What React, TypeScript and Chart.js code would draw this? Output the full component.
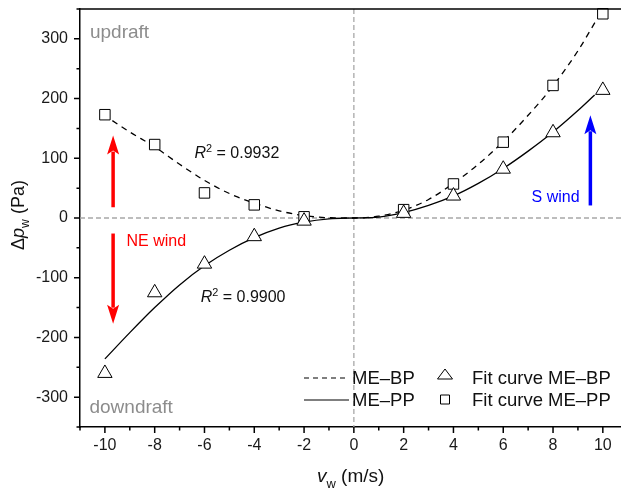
import { useEffect, useRef } from 'react';
import { Chart, registerables } from 'chart.js';

Chart.register(...registerables);

const FONT = '"Liberation Sans", Arial, Helvetica, sans-serif';

// Measured wind speeds and pressure differences (markers)
const windSpeeds = [-10, -8, -6, -4, -2, 2, 4, 6, 8, 10];
const triangleValues = [-260, -125, -77, -31, -5, 8, 37, 82, 143, 214];
const squareValues = [173, 123, 42, 22, 2, 14, 57, 127, 222, 342];

// Fitted curves, sampled along the wind-speed axis
const fitBpX = [-9.7, -9, -8, -7, -6, -5, -4, -3, -2, -1, 0, 1, 2, 3, 4, 5, 6, 7, 8, 9, 9.75];
const fitBpY = [163, 144, 119, 90, 63, 41, 25, 12, 4, 0.5, 0, 3, 13, 31, 58, 90, 128, 172, 221, 280, 332];
const fitPpX = [-10, -9, -8, -7, -6, -5, -4, -3, -2, -1, 0, 1, 2, 3, 4, 5, 6, 7, 8, 9, 9.67];
const fitPpY = [-236, -192, -150, -112, -80, -54, -33, -17, -7, -1.5, 0, 1.5, 9, 21, 37, 58, 83, 112, 144, 180, 206];

const xTicks = [-10, -8, -6, -4, -2, 0, 2, 4, 6, 8, 10];
const yTicks = [-300, -200, -100, 0, 100, 200, 300];

const seriesNames = ['ME\u2013BP', 'ME\u2013PP', 'Fit curve ME\u2013BP', 'Fit curve ME\u2013PP'];
const r2Values = ['0.9932', '0.9900'];

type Seg = { t: string; italic?: boolean; shift?: 'sub' | 'sup' };

function segFont(s: Seg, size: number) {
  const sz = s.shift ? size * 0.68 : size;
  return `${s.italic ? 'italic ' : ''}${sz}px ${FONT}`;
}

function richWidth(ctx: CanvasRenderingContext2D, segs: Seg[], size: number) {
  let w = 0;
  for (const s of segs) {
    ctx.font = segFont(s, size);
    w += ctx.measureText(s.t).width;
  }
  return w;
}

function drawRich(
  ctx: CanvasRenderingContext2D,
  segs: Seg[],
  x: number,
  y: number,
  size: number,
  color: string,
  align: 'left' | 'center' = 'left'
) {
  let cx = align === 'center' ? x - richWidth(ctx, segs, size) / 2 : x;
  ctx.fillStyle = color;
  ctx.textAlign = 'left';
  ctx.textBaseline = 'alphabetic';
  for (const s of segs) {
    ctx.font = segFont(s, size);
    const dy = s.shift === 'sub' ? size * 0.3 : s.shift === 'sup' ? -size * 0.38 : 0;
    ctx.fillText(s.t, cx, y + dy);
    cx += ctx.measureText(s.t).width;
  }
}

function drawArrow(ctx: CanvasRenderingContext2D, x: number, yTail: number, yTip: number, color: string) {
  const dir = Math.sign(yTip - yTail);
  const headLen = 19;
  const headHalf = 6;
  ctx.save();
  ctx.strokeStyle = color;
  ctx.fillStyle = color;
  ctx.lineWidth = 3.5;
  ctx.beginPath();
  ctx.moveTo(x, yTail);
  ctx.lineTo(x, yTip - dir * (headLen - 3));
  ctx.stroke();
  ctx.beginPath();
  ctx.moveTo(x, yTip);
  ctx.lineTo(x - headHalf, yTip - dir * headLen);
  ctx.lineTo(x, yTip - dir * (headLen - 4));
  ctx.lineTo(x + headHalf, yTip - dir * headLen);
  ctx.closePath();
  ctx.fill();
  ctx.restore();
}

// Gray dashed zero lines behind the data
const zeroLines = {
  id: 'zeroLines',
  beforeDatasetsDraw(chart: Chart) {
    const { ctx, chartArea: a, scales } = chart;
    const x0 = scales.x.getPixelForValue(0);
    const y0 = scales.y.getPixelForValue(0);
    ctx.save();
    ctx.strokeStyle = '#a8a8a8';
    ctx.lineWidth = 1.3;
    ctx.setLineDash([5, 3]);
    ctx.beginPath();
    ctx.moveTo(a.left, y0);
    ctx.lineTo(a.right, y0);
    ctx.moveTo(x0, a.top);
    ctx.lineTo(x0, a.bottom);
    ctx.stroke();
    ctx.restore();
  },
};

// Frame, tick marks, annotations, legend and axis titles
const decorations = {
  id: 'decorations',
  afterDraw(chart: Chart) {
    const { ctx, chartArea: a, scales } = chart;
    const xs = scales.x;
    const ys = scales.y;
    const px = (v: number) => xs.getPixelForValue(v);
    const py = (v: number) => ys.getPixelForValue(v);

    ctx.save();
    // top frame line
    ctx.strokeStyle = '#000';
    ctx.lineWidth = 1.5;
    ctx.beginPath();
    ctx.moveTo(a.left, a.top);
    ctx.lineTo(a.right, a.top);
    ctx.stroke();

    // tick marks (major and minor), pointing outward
    ctx.beginPath();
    for (let v = -11; v <= 10; v++) {
      const x = px(v);
      const len = v % 2 === 0 ? 6 : 3.5;
      ctx.moveTo(x, a.bottom);
      ctx.lineTo(x, a.bottom + len);
    }
    for (let v = -350; v <= 350; v += 50) {
      const y = py(v);
      const len = v % 100 === 0 ? 6 : 3.5;
      ctx.moveTo(a.left, y);
      ctx.lineTo(a.left - len, y);
    }
    ctx.stroke();

    // region labels
    drawRich(ctx, [{ t: 'updraft' }], px(-10.6), py(302), 19, '#8c8c8c');
    drawRich(ctx, [{ t: 'downdraft' }], px(-10.62), py(-327), 19, '#8c8c8c');

    // goodness of fit
    drawRich(
      ctx,
      [{ t: 'R', italic: true }, { t: '2', shift: 'sup' }, { t: ' = ' + r2Values[0] }],
      px(-6.4),
      py(100),
      16,
      '#111'
    );
    drawRich(
      ctx,
      [{ t: 'R', italic: true }, { t: '2', shift: 'sup' }, { t: ' = ' + r2Values[1] }],
      px(-6.15),
      py(-141),
      16,
      '#111'
    );

    // wind direction arrows
    drawArrow(ctx, px(-9.67), py(18), py(138), '#ff0000');
    drawArrow(ctx, px(-9.67), py(-26), py(-177), '#ff0000');
    drawArrow(ctx, px(9.5), py(21), py(172), '#0000ff');
    drawRich(ctx, [{ t: 'NE wind' }], px(-9.13), py(-47), 16, '#ff0000');
    drawRich(ctx, [{ t: 'S wind' }], px(7.14), py(27), 16, '#0000ff');

    // legend
    const lgSize = 18.5;
    const rows = [384, 406];
    ctx.strokeStyle = '#000';
    ctx.lineWidth = 1.2;
    ctx.setLineDash([5, 4]);
    ctx.beginPath();
    ctx.moveTo(304, rows[0] - 6);
    ctx.lineTo(349, rows[0] - 6);
    ctx.stroke();
    ctx.setLineDash([]);
    ctx.beginPath();
    ctx.moveTo(304, rows[1] - 6);
    ctx.lineTo(349, rows[1] - 6);
    ctx.stroke();
    drawRich(ctx, [{ t: seriesNames[0] }], 352, rows[0], lgSize, '#111');
    drawRich(ctx, [{ t: seriesNames[1] }], 352, rows[1], lgSize, '#111');
    // legend markers
    ctx.lineWidth = 1;
    ctx.fillStyle = '#fff';
    ctx.beginPath();
    ctx.moveTo(445, rows[0] - 15);
    ctx.lineTo(452.5, rows[0] - 5);
    ctx.lineTo(437.5, rows[0] - 5);
    ctx.closePath();
    ctx.fill();
    ctx.stroke();
    ctx.beginPath();
    ctx.rect(440.5, rows[1] - 11, 9, 9);
    ctx.fill();
    ctx.stroke();
    drawRich(ctx, [{ t: seriesNames[2] }], 472, rows[0], lgSize, '#111');
    drawRich(ctx, [{ t: seriesNames[3] }], 472, rows[1], lgSize, '#111');

    // axis titles
    drawRich(
      ctx,
      [{ t: 'v', italic: true }, { t: 'w', shift: 'sub' }, { t: ' (m/s)' }],
      317,
      482,
      19,
      '#111'
    );
    ctx.save();
    ctx.translate(24, 215);
    ctx.rotate(-Math.PI / 2);
    drawRich(
      ctx,
      [{ t: '\u0394' }, { t: 'p', italic: true }, { t: 'w', shift: 'sub' }, { t: ' (Pa)' }],
      0,
      0,
      18,
      '#111',
      'center'
    );
    ctx.restore();

    ctx.restore();
  },
};

export default function App() {
  const canvasRef = useRef<HTMLCanvasElement | null>(null);

  useEffect(() => {
    document.body.style.margin = '0';
    const canvas = canvasRef.current;
    if (!canvas) return;

    const tickFont = { family: FONT, size: 16 };

    const chart = new Chart(canvas, {
      type: 'line',
      data: {
        datasets: [
          {
            label: seriesNames[2],
            data: windSpeeds.map((x, i) => ({ x, y: triangleValues[i] })),
            showLine: false,
            pointStyle: 'triangle',
            pointRadius: 8.3,
            pointBackgroundColor: '#ffffff',
            pointBorderColor: '#000000',
            pointBorderWidth: 1,
            clip: false,
            order: 0,
          },
          {
            label: seriesNames[3],
            data: windSpeeds.map((x, i) => ({ x, y: squareValues[i] })),
            showLine: false,
            pointStyle: 'rect',
            pointRadius: 7.4,
            pointBackgroundColor: '#ffffff',
            pointBorderColor: '#000000',
            pointBorderWidth: 1,
            clip: false,
            order: 0,
          },
          {
            label: seriesNames[0],
            data: fitBpX.map((x, i) => ({ x, y: fitBpY[i] })),
            borderColor: '#000000',
            borderWidth: 1.3,
            borderDash: [6, 5],
            pointRadius: 0,
            fill: false,
            cubicInterpolationMode: 'monotone',
            order: 1,
          },
          {
            label: seriesNames[1],
            data: fitPpX.map((x, i) => ({ x, y: fitPpY[i] })),
            borderColor: '#000000',
            borderWidth: 1.3,
            pointRadius: 0,
            fill: false,
            cubicInterpolationMode: 'monotone',
            order: 1,
          },
        ],
      },
      options: {
        animation: false,
        responsive: false,
        layout: { autoPadding: false, padding: { top: 9, right: 0, bottom: 0, left: 0 } },
        plugins: {
          legend: { display: false },
          tooltip: { enabled: false },
        },
        scales: {
          x: {
            type: 'linear',
            min: -11,
            max: 10.73,
            afterBuildTicks: (s: any) => {
              s.ticks = xTicks.map((v) => ({ value: v }));
            },
            afterFit: (s: any) => {
              s.height = 64;
              s.paddingLeft = 0;
              s.paddingRight = 0;
            },
            grid: { display: false, drawTicks: false },
            border: { display: true, color: '#000', width: 1.5 },
            ticks: {
              padding: 9,
              color: '#1a1a1a',
              font: tickFont,
              maxRotation: 0,
              autoSkip: false,
              callback: (v: any) => String(v),
            },
          },
          y: {
            type: 'linear',
            min: -350,
            max: 350,
            afterBuildTicks: (s: any) => {
              s.ticks = yTicks.map((v) => ({ value: v }));
            },
            afterFit: (s: any) => {
              s.width = 80;
              s.paddingTop = 0;
              s.paddingBottom = 0;
            },
            grid: { display: false, drawTicks: false },
            border: { display: true, color: '#000', width: 1.5 },
            ticks: {
              padding: 12,
              color: '#1a1a1a',
              font: tickFont,
              autoSkip: false,
              callback: (v: any) => String(v),
            },
          },
        },
      },
      plugins: [zeroLines, decorations],
    });

    return () => chart.destroy();
  }, []);

  return (
    <div style={{ width: 621, height: 491 }}>
      <canvas ref={canvasRef} width={621} height={491} style={{ display: 'block' }} />
    </div>
  );
}
